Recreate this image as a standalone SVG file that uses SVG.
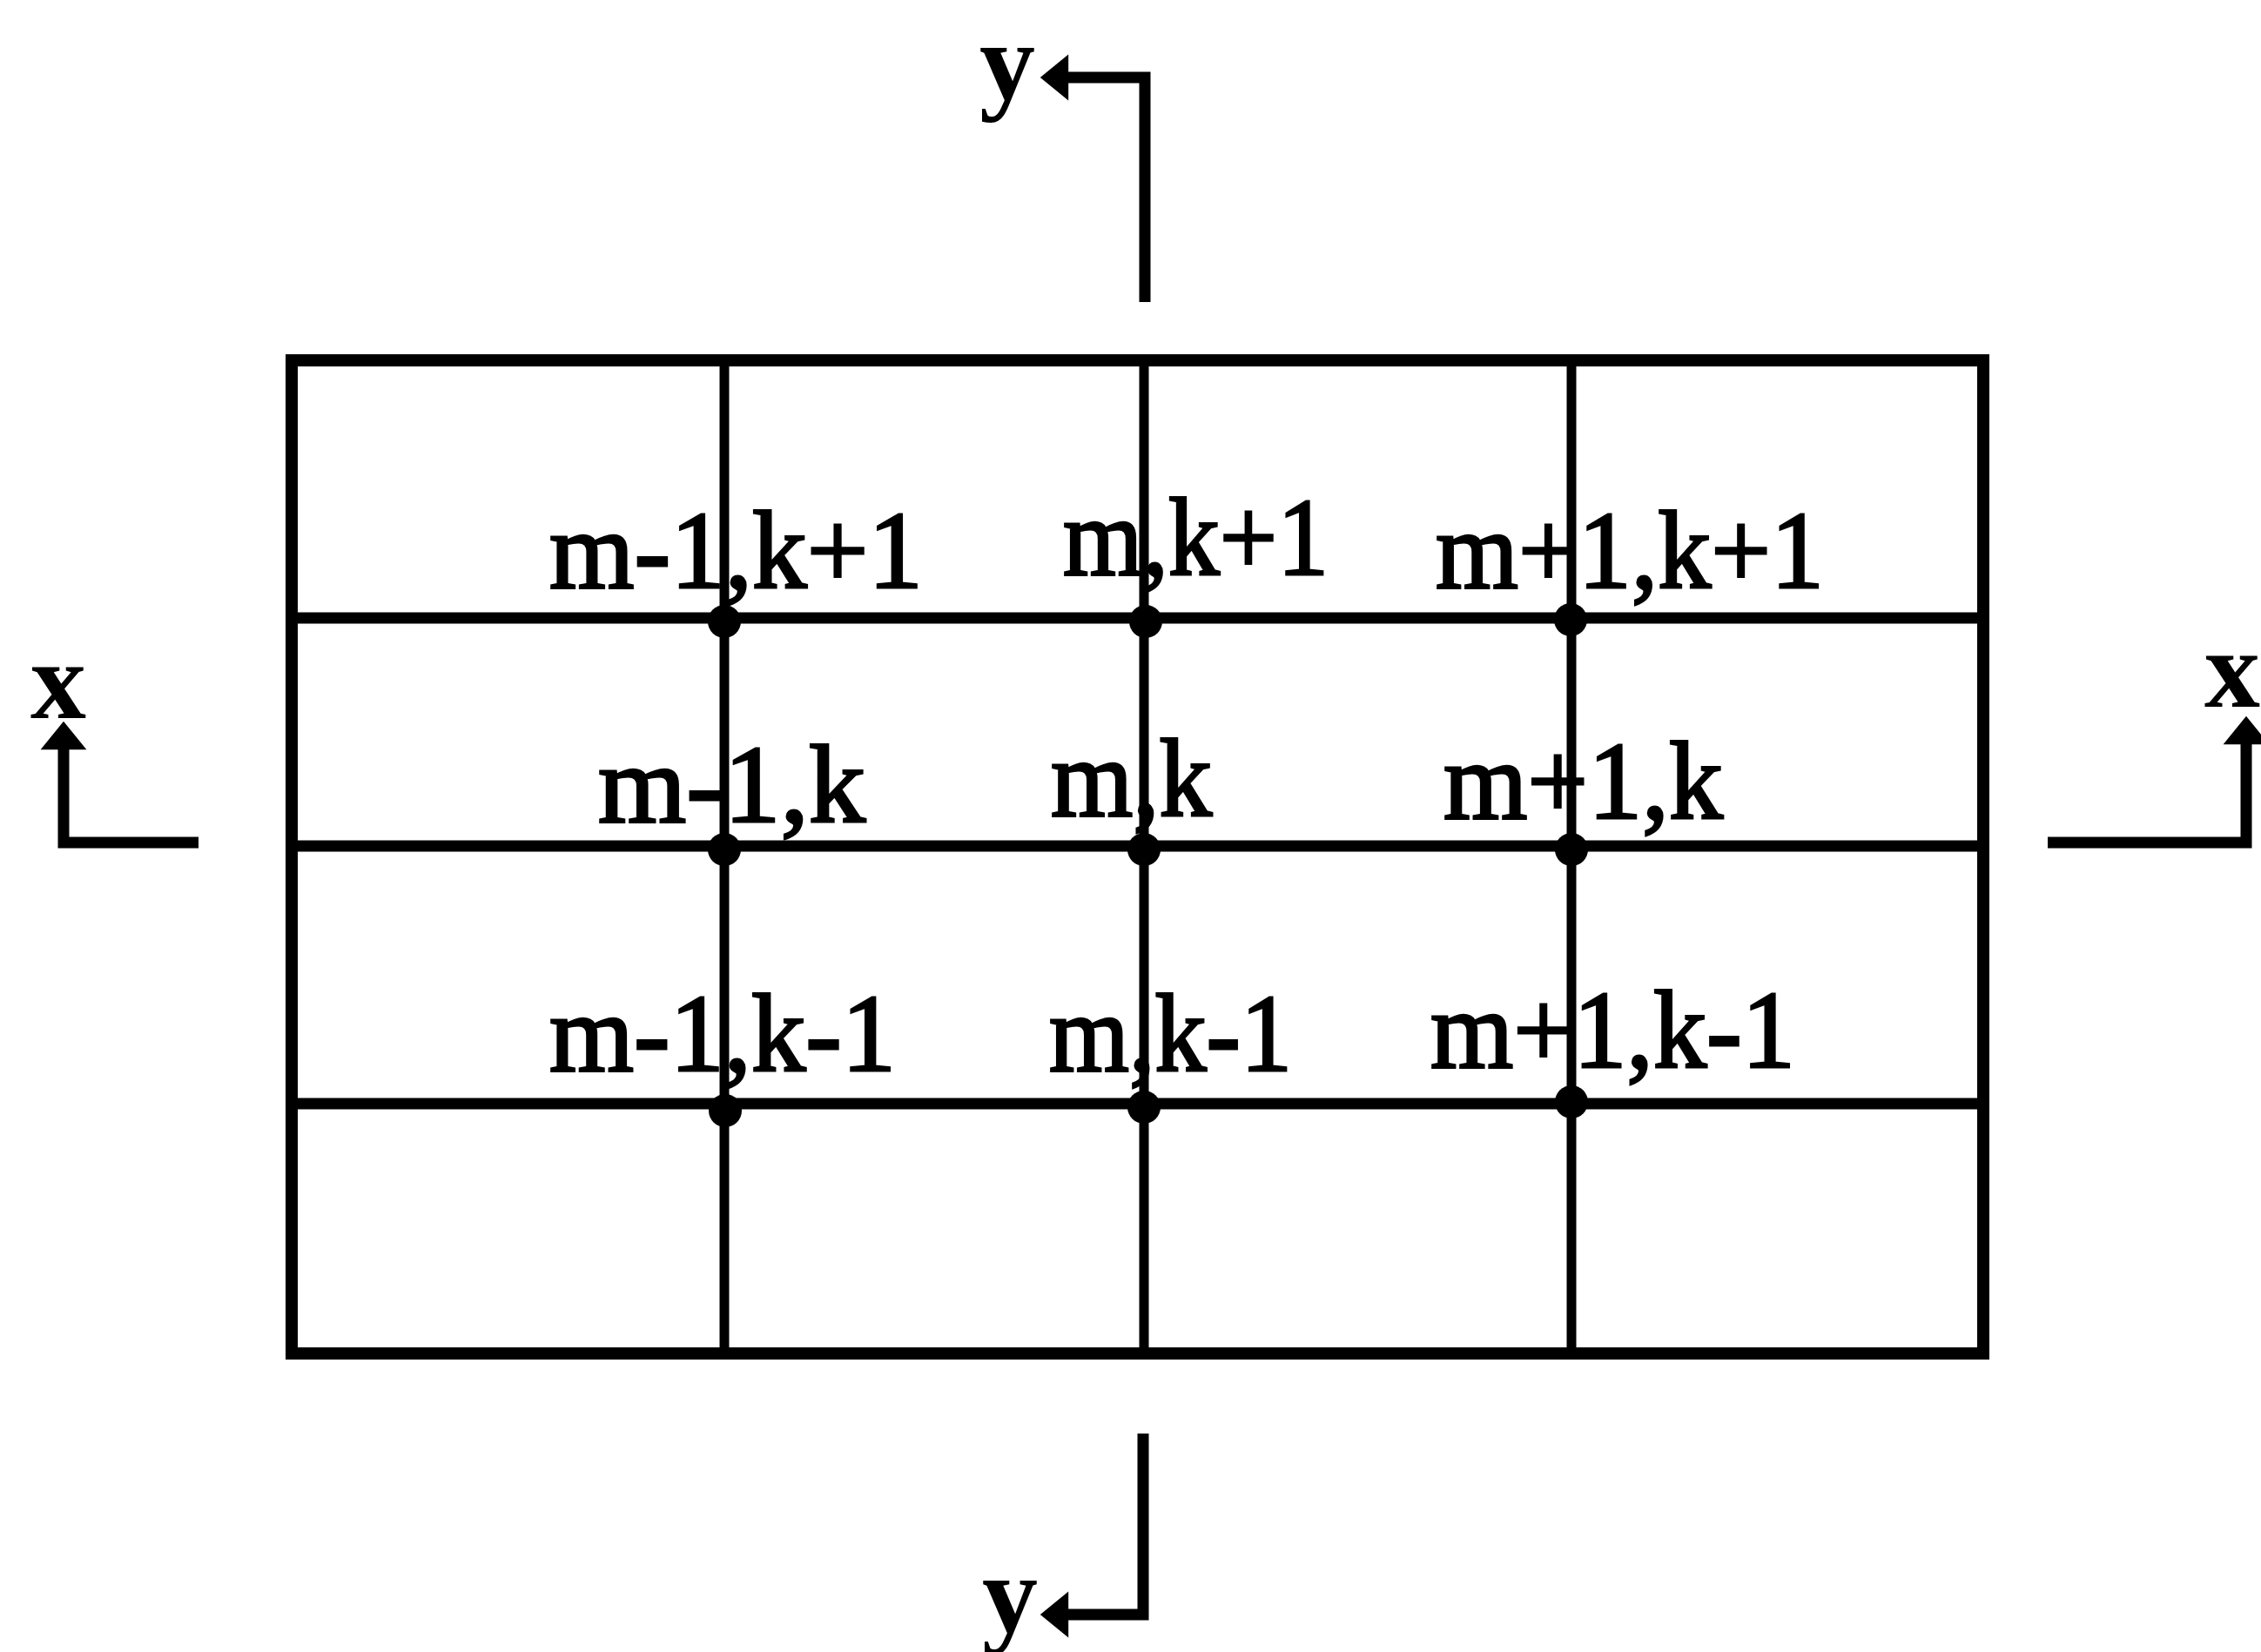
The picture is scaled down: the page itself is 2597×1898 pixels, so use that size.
<svg xmlns="http://www.w3.org/2000/svg" width="2597" height="1898" viewBox="0 0 2597 1898">
  <style>
    .frame { fill: none; stroke: #000; stroke-width: 14; stroke-linejoin: miter; }
    .vline { stroke: #000; stroke-width: 11; }
    .hline { stroke: #000; stroke-width: 13; }
    .node-dot { fill: #000; }
    .lbl { font-family: "Liberation Serif", "Times New Roman", serif; font-size: 128px; fill: #000; stroke: #000; stroke-width: 3; }
    .axis-lbl { font-family: "Liberation Serif", "Times New Roman", serif; font-size: 128px; font-weight: bold; fill: #000; }
    .axis { fill: none; stroke: #000; stroke-width: 13; stroke-linejoin: miter; stroke-linecap: butt; }
  </style>
  <defs>
    <marker id="head" markerUnits="userSpaceOnUse" markerWidth="40" markerHeight="60" viewBox="-2 -25 32 50" refX="1" refY="0" orient="auto">
      <path d="M0,-22 L27,0 L0,22 Z" fill="#000"/>
    </marker>
  </defs>

  <rect width="2597" height="1898" fill="#fff"/>

  <!-- mesh: outer frame, interior grid lines -->
  <g id="grid">
    <rect class="frame" x="335" y="414" width="1943" height="1141"/>
    <line class="vline" x1="832" y1="414" x2="832" y2="1555"/>
    <line class="vline" x1="1314" y1="414" x2="1314" y2="1555"/>
    <line class="vline" x1="1805" y1="414" x2="1805" y2="1555"/>
    <line class="hline" x1="335" y1="710" x2="2278" y2="710"/>
    <line class="hline" x1="335" y1="972" x2="2278" y2="972"/>
    <line class="hline" x1="335" y1="1268" x2="2278" y2="1268"/>
  </g>

  <!-- mesh nodes with their index labels -->
  <g id="node-m-1-k+1">
    <text class="lbl" x="631" y="675" textLength="429" lengthAdjust="spacingAndGlyphs">m-1,k+1</text>
    <circle class="node-dot" cx="832" cy="714" r="19"/>
  </g>
  <g id="node-m-k+1">
    <text class="lbl" x="1221" y="660" textLength="305" lengthAdjust="spacingAndGlyphs">m,k+1</text>
    <circle class="node-dot" cx="1316" cy="714" r="19"/>
  </g>
  <g id="node-m+1-k+1">
    <text class="lbl" x="1649" y="675" textLength="446" lengthAdjust="spacingAndGlyphs">m+1,k+1</text>
    <circle class="node-dot" cx="1804" cy="712" r="19"/>
  </g>
  <g id="node-m-1-k">
    <text class="lbl" x="687" y="944" textLength="307" lengthAdjust="spacingAndGlyphs">m-1,k</text>
    <circle class="node-dot" cx="832" cy="976" r="19"/>
  </g>
  <g id="node-m-k">
    <text class="lbl" x="1207" y="937" textLength="185" lengthAdjust="spacingAndGlyphs">m,k</text>
    <circle class="node-dot" cx="1314" cy="976" r="19"/>
  </g>
  <g id="node-m+1-k">
    <text class="lbl" x="1658" y="940" textLength="321" lengthAdjust="spacingAndGlyphs">m+1,k</text>
    <circle class="node-dot" cx="1805" cy="976" r="19"/>
  </g>
  <g id="node-m-1-k-1">
    <text class="lbl" x="631" y="1230" textLength="398" lengthAdjust="spacingAndGlyphs">m-1,k-1</text>
    <circle class="node-dot" cx="833" cy="1276" r="19"/>
  </g>
  <g id="node-m-k-1">
    <text class="lbl" x="1205" y="1230" textLength="279" lengthAdjust="spacingAndGlyphs">m,k-1</text>
    <circle class="node-dot" cx="1314" cy="1272" r="19"/>
  </g>
  <g id="node-m+1-k-1">
    <text class="lbl" x="1643" y="1226" textLength="419" lengthAdjust="spacingAndGlyphs">m+1,k-1</text>
    <circle class="node-dot" cx="1805" cy="1266" r="19"/>
  </g>

  <!-- section-cut axis arrows -->
  <g id="connectors">
    <path class="axis" d="M1315,347 V89 H1226" marker-end="url(#head)"/>
    <path class="axis" d="M1313,1647 V1855 H1226" marker-end="url(#head)"/>
    <path class="axis" d="M228,968 H73 V860" marker-end="url(#head)"/>
    <path class="axis" d="M2352,968 H2580 V854" marker-end="url(#head)"/>
  </g>

  <g id="axis-labels">
    <text class="axis-lbl" x="1125" y="114">y</text>
    <text class="axis-lbl" x="1128" y="1875">y</text>
    <text class="axis-lbl" x="35" y="825">x</text>
    <text class="axis-lbl" x="2532" y="812">x</text>
  </g>
</svg>
